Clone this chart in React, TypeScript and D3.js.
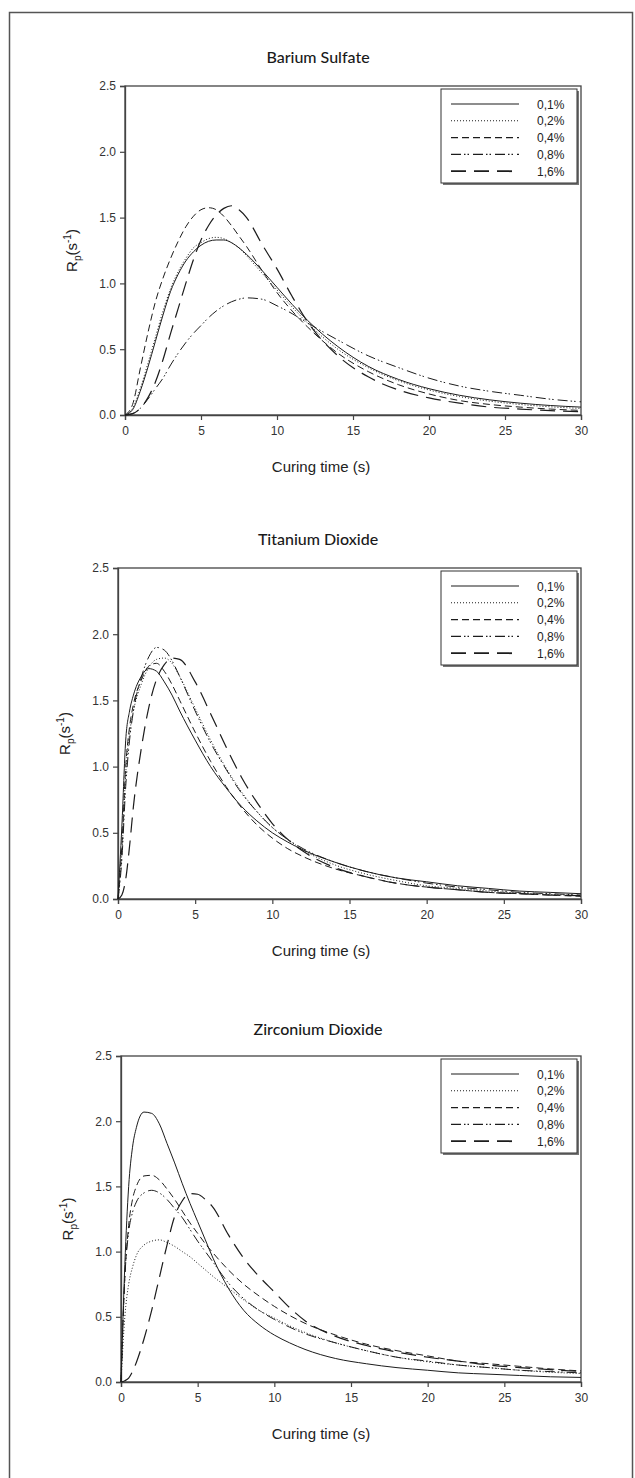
import React, { useEffect, useRef } from 'react';
import * as d3 from 'd3';

// ---- data ----
const legendLabels = ['0,1%', '0,2%', '0,4%', '0,8%', '1,6%'];
const yTicks = [0, 0.5, 1, 1.5, 2, 2.5];
const xTicks = [0, 5, 10, 15, 20, 25, 30];

// Barium Sulfate
const baTime = [0, 0.5, 1, 1.5, 2, 2.5, 3, 3.5, 4, 4.5, 5, 5.5, 6, 6.5, 7, 7.5, 8, 9, 10, 11, 12, 14, 16, 18, 20, 22, 24, 26, 28, 30];
const ba01 = [0, 0.04, 0.18, 0.36, 0.56, 0.76, 0.94, 1.07, 1.17, 1.24, 1.29, 1.32, 1.33, 1.33, 1.31, 1.27, 1.22, 1.10, 0.97, 0.84, 0.72, 0.52, 0.37, 0.27, 0.20, 0.15, 0.115, 0.09, 0.072, 0.06];
const ba02 = [0, 0.05, 0.20, 0.39, 0.59, 0.79, 0.96, 1.09, 1.19, 1.27, 1.31, 1.34, 1.35, 1.34, 1.31, 1.27, 1.21, 1.08, 0.95, 0.82, 0.70, 0.50, 0.36, 0.26, 0.19, 0.14, 0.105, 0.08, 0.062, 0.05];
const ba04 = [0, 0.08, 0.35, 0.62, 0.86, 1.04, 1.19, 1.32, 1.43, 1.51, 1.56, 1.575, 1.56, 1.51, 1.44, 1.36, 1.28, 1.10, 0.93, 0.79, 0.67, 0.47, 0.33, 0.23, 0.16, 0.11, 0.08, 0.06, 0.045, 0.035];
const ba08 = [0, 0.01, 0.05, 0.12, 0.20, 0.28, 0.38, 0.47, 0.55, 0.62, 0.68, 0.74, 0.79, 0.83, 0.86, 0.88, 0.89, 0.88, 0.83, 0.77, 0.70, 0.57, 0.45, 0.36, 0.28, 0.22, 0.18, 0.15, 0.12, 0.10];
const ba16 = [0, 0.01, 0.05, 0.13, 0.25, 0.42, 0.62, 0.81, 1.00, 1.18, 1.33, 1.44, 1.52, 1.57, 1.59, 1.56, 1.50, 1.30, 1.11, 0.90, 0.71, 0.45, 0.29, 0.19, 0.13, 0.09, 0.06, 0.045, 0.033, 0.025];

// Titanium Dioxide
const tiTime = [0, 0.25, 0.5, 0.75, 1, 1.5, 2, 2.5, 3, 3.5, 4, 5, 6, 7, 8, 9, 10, 11, 12, 14, 16, 18, 20, 22, 24, 26, 28, 30];
const ti01 = [0, 0.55, 1.2, 1.42, 1.54, 1.68, 1.74, 1.72, 1.64, 1.54, 1.42, 1.20, 1.00, 0.84, 0.70, 0.59, 0.50, 0.43, 0.37, 0.28, 0.21, 0.16, 0.13, 0.10, 0.08, 0.06, 0.05, 0.04];
const ti02 = [0, 0.35, 0.95, 1.25, 1.42, 1.62, 1.75, 1.81, 1.82, 1.78, 1.68, 1.44, 1.20, 0.99, 0.81, 0.66, 0.54, 0.45, 0.37, 0.26, 0.19, 0.14, 0.10, 0.08, 0.06, 0.045, 0.035, 0.025];
const ti04 = [0, 0.4, 1.0, 1.3, 1.47, 1.65, 1.76, 1.78, 1.72, 1.62, 1.50, 1.26, 1.04, 0.85, 0.69, 0.56, 0.46, 0.38, 0.32, 0.23, 0.17, 0.12, 0.09, 0.07, 0.05, 0.04, 0.03, 0.02];
const ti08 = [0, 0.3, 0.85, 1.2, 1.42, 1.67, 1.83, 1.90, 1.88, 1.80, 1.68, 1.42, 1.18, 0.98, 0.80, 0.66, 0.54, 0.45, 0.38, 0.28, 0.21, 0.16, 0.12, 0.09, 0.07, 0.05, 0.04, 0.03];
const ti16 = [0, 0.03, 0.15, 0.40, 0.70, 1.13, 1.45, 1.66, 1.77, 1.82, 1.81, 1.64, 1.40, 1.15, 0.92, 0.73, 0.57, 0.45, 0.36, 0.24, 0.17, 0.12, 0.09, 0.07, 0.05, 0.04, 0.03, 0.025];

// Zirconium Dioxide
const zrTime = [0, 0.25, 0.5, 0.75, 1, 1.5, 2, 2.5, 3, 3.5, 4, 4.5, 5, 5.5, 6, 7, 8, 9, 10, 11, 12, 14, 16, 18, 20, 22, 24, 26, 28, 30];
const zr01 = [0, 0.9, 1.5, 1.8, 1.95, 2.07, 2.06, 1.98, 1.83, 1.68, 1.52, 1.37, 1.23, 1.09, 0.95, 0.72, 0.55, 0.44, 0.36, 0.30, 0.25, 0.18, 0.14, 0.11, 0.09, 0.07, 0.06, 0.05, 0.04, 0.035];
const zr02 = [0, 0.5, 0.75, 0.88, 0.97, 1.05, 1.08, 1.09, 1.07, 1.04, 1.00, 0.96, 0.91, 0.86, 0.81, 0.72, 0.63, 0.55, 0.49, 0.43, 0.38, 0.30, 0.24, 0.19, 0.155, 0.13, 0.11, 0.09, 0.075, 0.065];
const zr04 = [0, 0.8, 1.2, 1.4, 1.5, 1.58, 1.585, 1.55, 1.48, 1.40, 1.31, 1.22, 1.14, 1.06, 0.99, 0.86, 0.75, 0.66, 0.58, 0.51, 0.45, 0.36, 0.29, 0.24, 0.20, 0.16, 0.14, 0.12, 0.10, 0.085];
const zr08 = [0, 0.8, 1.15, 1.3, 1.38, 1.45, 1.47, 1.45, 1.40, 1.33, 1.26, 1.17, 1.08, 1.00, 0.92, 0.76, 0.64, 0.55, 0.48, 0.42, 0.37, 0.30, 0.24, 0.19, 0.16, 0.13, 0.11, 0.09, 0.08, 0.07];
const zr16 = [0, 0.01, 0.03, 0.08, 0.15, 0.33, 0.55, 0.80, 1.05, 1.27, 1.39, 1.445, 1.44, 1.40, 1.34, 1.13, 0.95, 0.81, 0.69, 0.57, 0.47, 0.35, 0.28, 0.23, 0.19, 0.16, 0.13, 0.11, 0.095, 0.08];

// line styles per concentration
const dashes = [null, '1,2', '7,4', '10,3,1.5,2,1.5,4', '15,8'];
const widths = [1, 1, 1, 1, 1.2];

const panels = [
  { title: 'Barium Sulfate', time: baTime, series: [ba01, ba02, ba04, ba08, ba16], x0: 125, x1: 581, y0: 86, y1: 415, titleY: 63 },
  { title: 'Titanium Dioxide', time: tiTime, series: [ti01, ti02, ti04, ti08, ti16], x0: 118, x1: 581, y0: 568, y1: 899, titleY: 545 },
  { title: 'Zirconium Dioxide', time: zrTime, series: [zr01, zr02, zr04, zr08, zr16], x0: 121, x1: 581, y0: 1056, y1: 1382, titleY: 1035 },
];

const ink = '#1c1c1c';
const axisCol = '#444';
const tickFont = '"Liberation Sans", Arial, sans-serif';

const App = () => {
  const ref = useRef<SVGSVGElement>(null);

  useEffect(() => {
    const svg = d3.select(ref.current);
    svg.selectAll('*').remove();

    // outer frame
    svg.append('rect')
      .attr('x', 9.5).attr('y', 12.5)
      .attr('width', 623).attr('height', 1500)
      .attr('fill', 'none').attr('stroke', '#555').attr('stroke-width', 1.5);

    panels.forEach((p) => {
      const g = svg.append('g');
      const x = d3.scaleLinear().domain([0, 30]).range([p.x0, p.x1]);
      const y = d3.scaleLinear().domain([0, 2.5]).range([p.y1, p.y0]);

      g.append('text')
        .attr('x', 318).attr('y', p.titleY)
        .attr('text-anchor', 'middle')
        .style('font-family', 'Lato, "Noto Sans", sans-serif')
        .style('font-size', '16px').style('font-weight', 500)
        .attr('fill', '#1a1a1a')
        .text(p.title);

      // frame
      g.append('rect')
        .attr('x', p.x0).attr('y', p.y0)
        .attr('width', p.x1 - p.x0).attr('height', p.y1 - p.y0)
        .attr('fill', 'none').attr('stroke', axisCol).attr('stroke-width', 1.3);

      const yAxis = g.append('g')
        .attr('transform', `translate(${p.x0},0)`)
        .call(d3.axisLeft(y).tickValues(yTicks).tickSize(5).tickPadding(4).tickFormat(d3.format('.1f')));
      const xAxis = g.append('g')
        .attr('transform', `translate(0,${p.y1})`)
        .call(d3.axisBottom(x).tickValues(xTicks).tickSize(5).tickPadding(6));
      [yAxis, xAxis].forEach((a) => {
        a.select('.domain').attr('stroke', axisCol).attr('stroke-width', 1.3);
        a.selectAll('line').attr('stroke', axisCol).attr('stroke-width', 1.2);
        a.selectAll('text').attr('fill', '#333')
          .style('font-family', tickFont).style('font-size', '12px');
      });

      // axis titles
      g.append('text')
        .attr('x', 321).attr('y', p.y1 + 57)
        .attr('text-anchor', 'middle')
        .style('font-family', tickFont).style('font-size', '15px')
        .attr('fill', '#222')
        .text('Curing time (s)');

      const yl = g.append('text')
        .attr('transform', `translate(${p.x0 - 48},${(p.y0 + p.y1) / 2}) rotate(-90)`)
        .attr('text-anchor', 'middle')
        .style('font-family', tickFont).style('font-size', '15px')
        .attr('fill', '#222');
      yl.append('tspan').text('R');
      yl.append('tspan').attr('dy', 4).style('font-size', '10px').text('p');
      yl.append('tspan').attr('dy', -4).text('(s');
      yl.append('tspan').attr('dy', -6).style('font-size', '10px').text('-1');
      yl.append('tspan').attr('dy', 6).text(')');

      // curves
      const line = d3.line<number>()
        .x((_, i) => x(p.time[i]))
        .y((d) => y(d))
        .curve(d3.curveMonotoneX);
      p.series.forEach((s, k) => {
        g.append('path')
          .attr('d', line(s))
          .attr('fill', 'none')
          .attr('stroke', ink)
          .attr('stroke-width', widths[k])
          .attr('stroke-dasharray', dashes[k]);
      });

      // legend
      const lx = p.x1 - 140;
      const ly = p.y0 + 3;
      const lw = 136;
      const lh = 94;
      g.append('rect').attr('x', lx + 2).attr('y', ly + 2).attr('width', lw).attr('height', lh)
        .attr('fill', '#777');
      g.append('rect').attr('x', lx).attr('y', ly).attr('width', lw).attr('height', lh)
        .attr('fill', 'white').attr('stroke', '#333').attr('stroke-width', 1);
      legendLabels.forEach((lab, k) => {
        const ry = ly + 15 + k * 16.8;
        g.append('line')
          .attr('x1', lx + 10).attr('x2', lx + 78)
          .attr('y1', ry).attr('y2', ry)
          .attr('stroke', ink).attr('stroke-width', k === 4 ? 1.8 : 1.1)
          .attr('stroke-dasharray', dashes[k]);
        g.append('text')
          .attr('x', lx + 96).attr('y', ry + 4.5)
          .style('font-family', tickFont).style('font-size', '12px')
          .attr('fill', '#222')
          .text(lab);
      });
    });
  }, []);

  return (
    <svg ref={ref} width={635} height={1478}
      style={{ position: 'absolute', left: 0, top: 0, background: 'white' }} />
  );
};

export default App;
